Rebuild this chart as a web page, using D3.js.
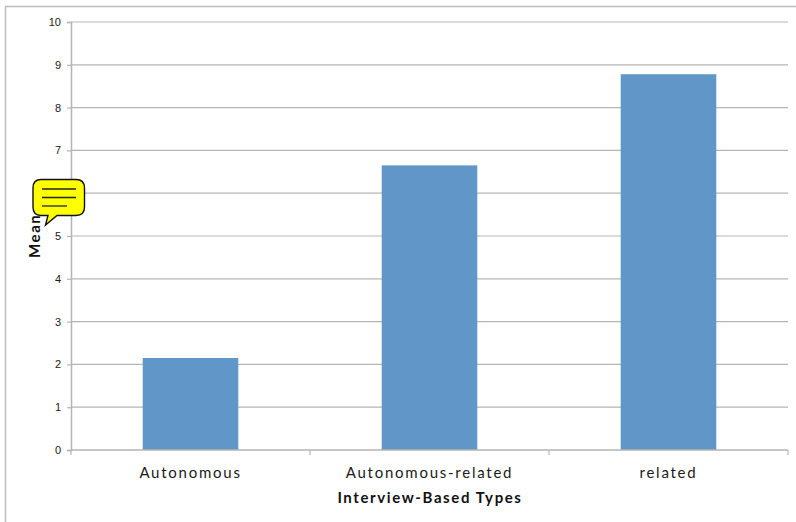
<!DOCTYPE html>
<html>
<head>
<meta charset="utf-8">
<script src="https://cdn.jsdelivr.net/npm/d3@7"></script>
<style>
  html, body { margin: 0; padding: 0; background: #fff; }
  svg { display: block; font-family: Lato, sans-serif; }
</style>
</head>
<body>
<div id="chartContainer"></div>
<script>
const categories = ["Autonomous", "Autonomous-related", "related"];
const means = [2.15, 6.65, 8.78];
const yTicks = [0, 1, 2, 3, 4, 5, 6, 7, 8, 9, 10];
const xAxisLabel = "Interview-Based Types";
const yAxisLabel = "Mean";

const width = 796;
const height = 522;
const marginTop = 22;
const marginRight = 8;
const marginBottom = 72;
const marginLeft = 71;
const gridColor = "#b5b5b5";
const textColor = "#1a1a1a";

const x = d3.scaleBand()
  .domain(categories)
  .range([marginLeft, width - marginRight])
  .paddingInner(0.6)
  .paddingOuter(0.3);

// category boundaries, used for the tick marks on the x axis
const xEdges = d3.scaleLinear()
  .domain([0, categories.length])
  .range([marginLeft, width - marginRight]);

const y = d3.scaleLinear()
  .domain([0, 10])
  .range([height - marginBottom, marginTop]);

const svg = d3.select("#chartContainer").append("svg")
  .attr("width", width)
  .attr("height", height)
  .attr("viewBox", [0, 0, width, height]);

// outer chart frame, only top and left show
svg.append("path")
  .attr("d", `M${width},6.5H5.5V${height}`)
  .attr("fill", "none")
  .attr("stroke", "#bdbdbd")
  .attr("stroke-width", 1.5);

// y axis with gridlines
const yAxis = svg.append("g")
  .attr("transform", `translate(${marginLeft},0)`)
  .call(d3.axisLeft(y).tickValues(yTicks).tickSize(4).tickPadding(6));
yAxis.select(".domain").attr("stroke", gridColor).attr("stroke-width", 1.5);
yAxis.selectAll(".tick line").attr("stroke", gridColor).attr("stroke-width", 1.2);
yAxis.selectAll(".tick text")
  .attr("fill", textColor)
  .style("font-size", "11px");

svg.append("g")
  .selectAll("line")
  .data(yTicks.filter(d => d > 0))
  .join("line")
  .attr("x1", marginLeft)
  .attr("x2", width - marginRight)
  .attr("y1", d => y(d))
  .attr("y2", d => y(d))
  .attr("stroke", gridColor)
  .attr("stroke-width", 1.2);

svg.append("g")
  .attr("fill", "#6096c8")
  .selectAll("rect")
  .data(means)
  .join("rect")
  .attr("x", (d, i) => x(categories[i]))
  .attr("y", d => y(d))
  .attr("width", x.bandwidth())
  .attr("height", d => y(0) - y(d));

// x axis line and ticks at category boundaries
svg.append("line")
  .attr("x1", marginLeft)
  .attr("x2", width - marginRight)
  .attr("y1", y(0))
  .attr("y2", y(0))
  .attr("stroke", gridColor)
  .attr("stroke-width", 1.5);

svg.append("g")
  .selectAll("line")
  .data(d3.range(categories.length + 1))
  .join("line")
  .attr("x1", d => xEdges(d))
  .attr("x2", d => xEdges(d))
  .attr("y1", y(0))
  .attr("y2", y(0) + 5)
  .attr("stroke", gridColor)
  .attr("stroke-width", 1.2);

svg.append("g")
  .selectAll("text")
  .data(categories)
  .join("text")
  .attr("x", d => x(d) + x.bandwidth() / 2)
  .attr("y", 478)
  .attr("text-anchor", "middle")
  .attr("fill", textColor)
  .style("font-size", "15px")
  .style("letter-spacing", "1.75px")
  .text(d => d);

svg.append("text")
  .attr("x", 430)
  .attr("y", 503)
  .attr("text-anchor", "middle")
  .attr("fill", "#111")
  .style("font-size", "15px")
  .style("font-weight", "700")
  .style("letter-spacing", "1.6px")
  .text(xAxisLabel);

svg.append("text")
  .attr("transform", "translate(40,258) rotate(-90)")
  .attr("fill", "#111")
  .style("font-size", "15px")
  .style("font-weight", "700")
  .style("letter-spacing", "1.6px")
  .text(yAxisLabel);

// yellow comment note sitting over the axis
const note = svg.append("g");
note.append("path")
  .attr("d", "M41,179.5H76Q84.5,179.5 84.5,188V207Q84.5,215.5 76,215.5H57L45.5,225L48,215.5H41Q33,215.5 33,207V188Q33,179.5 41,179.5Z")
  .attr("fill", "#ffff00")
  .attr("stroke", "#111")
  .attr("stroke-width", 1.4);
note.selectAll("line")
  .data([[42, 76, 189], [42, 76, 197.5], [42, 67, 206]])
  .join("line")
  .attr("x1", d => d[0])
  .attr("x2", d => d[1])
  .attr("y1", d => d[2])
  .attr("y2", d => d[2])
  .attr("stroke", "#222")
  .attr("stroke-width", 1.3);
</script>
</body>
</html>
